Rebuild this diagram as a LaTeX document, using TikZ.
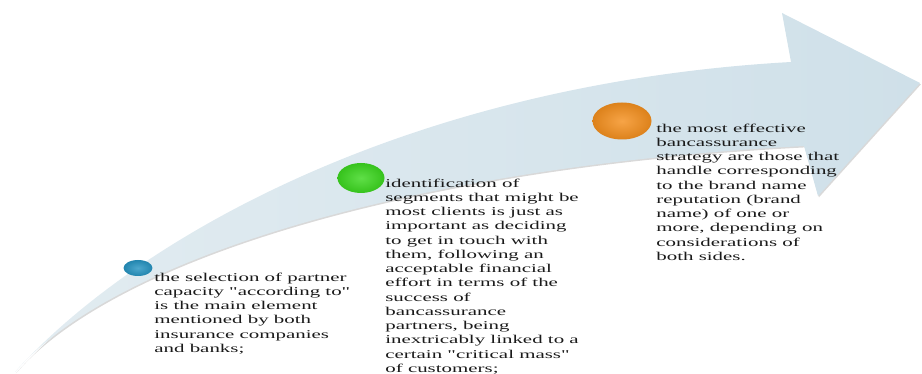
\documentclass[tikz,border=0pt]{standalone}
\usepackage{fontspec}
\newfontfamily\notefont[FakeStretch=1.75]{Liberation Serif}
\definecolor{bandlight}{HTML}{E2ECF1}
\definecolor{band}{HTML}{CFE0E9}
\definecolor{inkgray}{HTML}{1A1A1A}
\definecolor{btnblue}{HTML}{2694C2}
\definecolor{btngreen}{HTML}{3CD81F}
\definecolor{btnorange}{HTML}{F5901E}
\usetikzlibrary{positioning, shapes.geometric, shadows}

\begin{document}
\begin{tikzpicture}[x=0.02cm, y=0.02cm,
  ball/.style={ellipse, inner sep=0pt, inner color=#1!82!white, outer color=#1!90!black},
  note/.style={anchor=north west, align=left, inner sep=0pt, text=inkgray,
               font=\notefont\fontsize{6.8}{8.1}\selectfont},
]
\useasboundingbox (0,0) rectangle (922,374);

% curved arrow
\path[left color=bandlight, right color=band,
      drop shadow={shadow xshift=0.5pt, shadow yshift=-0.8pt, opacity=0.3}]
  (15,2) .. controls (130,130) and (400,290) .. (791,312)
  -- (782,361) -- (920,291) -- (818,178) -- (804,228)
  .. controls (420,208) and (115,118) .. (15,2) -- cycle;

% steps
\node[ball=btnblue, minimum width=0.58cm, minimum height=0.32cm] (b1) at (138,106) {};
\node[ball=btngreen, minimum width=0.94cm, minimum height=0.6cm] (b2) at (361,196) {};
\node[ball=btnorange, minimum width=1.18cm, minimum height=0.74cm] (b3) at (622,253) {};

\node[note] (t1) at (154,101.5) {
  the selection of partner\\
  capacity "according to"\\
  is the main element\\
  mentioned by both\\
  insurance companies\\
  and banks;
};
\node[note] (t2) at (385,195.5) {
  identification of\\
  segments that might be\\
  most clients is just as\\
  important as deciding\\
  to get in touch with\\
  them, following an\\
  acceptable financial\\
  effort in terms of the\\
  success of\\
  bancassurance\\
  partners, being\\
  inextricably linked to a\\
  certain "critical mass"\\
  of customers;
};
\node[note] (t3) at (656,250.5) {
  the most effective\\
  bancassurance\\
  strategy are those that\\
  handle corresponding\\
  to the brand name\\
  reputation (brand\\
  name) of one or\\
  more, depending on\\
  considerations of\\
  both sides.
};
\end{tikzpicture}
\end{document}
